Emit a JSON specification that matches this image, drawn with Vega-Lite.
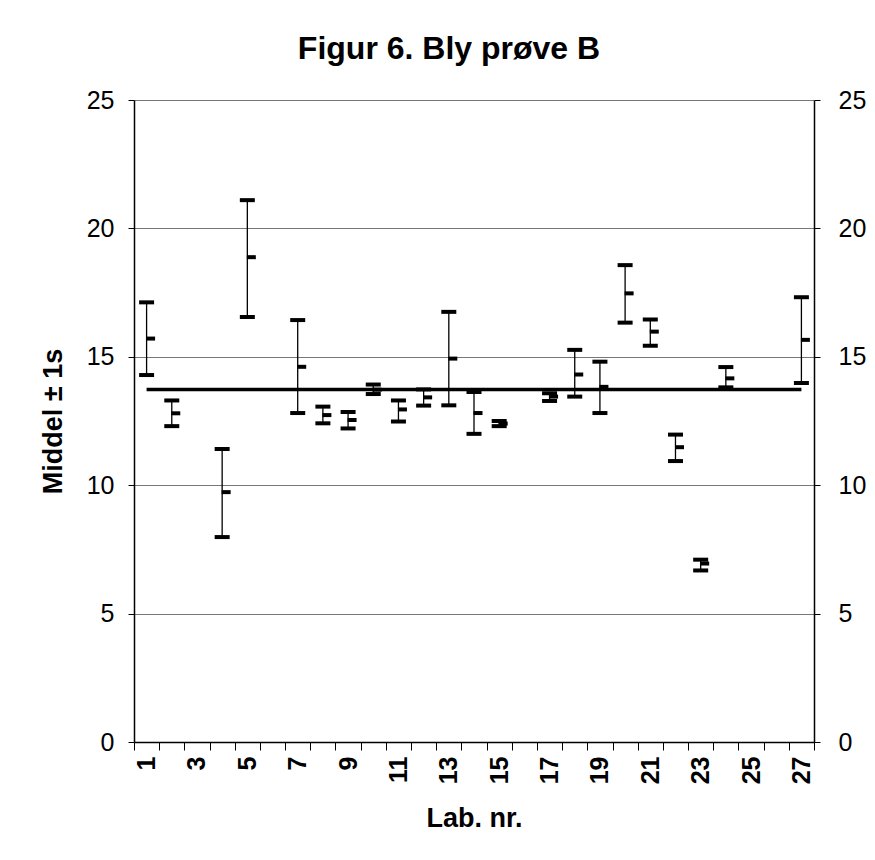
{
  "$schema": "https://vega.github.io/schema/vega-lite/v6.json",
  "width": 680,
  "height": 642,
  "autosize": {"type": "none"},
  "padding": {"left": 134, "top": 100, "right": 61, "bottom": 118},
  "background": "white",
  "config": {
    "font": "Liberation Sans",
    "view": {"stroke": null}
  },
  "title": {
    "text": "Figur 6. Bly prøve B",
    "fontSize": 32,
    "fontWeight": "bold",
    "color": "black",
    "anchor": "middle",
    "offset": 22,
    "dx": -25
  },
  "datasets": {
    "labs": [
      {"lab": 1, "high": 17.12, "mean": 15.71, "low": 14.29},
      {"lab": 2, "high": 13.3, "mean": 12.8, "low": 12.3},
      {"lab": 4, "high": 11.41, "mean": 9.73, "low": 7.98},
      {"lab": 5, "high": 21.1, "mean": 18.88, "low": 16.55},
      {"lab": 7, "high": 16.43, "mean": 14.61, "low": 12.81},
      {"lab": 8, "high": 13.06, "mean": 12.73, "low": 12.41},
      {"lab": 9, "high": 12.85, "mean": 12.54, "low": 12.21},
      {"lab": 10, "high": 13.92, "mean": 13.72, "low": 13.55},
      {"lab": 11, "high": 13.3, "mean": 12.95, "low": 12.48},
      {"lab": 12, "high": 13.73, "mean": 13.42, "low": 13.1},
      {"lab": 13, "high": 16.75, "mean": 14.93, "low": 13.11},
      {"lab": 14, "high": 13.63, "mean": 12.81, "low": 12.0},
      {"lab": 15, "high": 12.5, "mean": 12.4, "low": 12.3},
      {"lab": 17, "high": 13.58, "mean": 13.45, "low": 13.28},
      {"lab": 18, "high": 15.27, "mean": 14.31, "low": 13.45},
      {"lab": 19, "high": 14.81, "mean": 13.83, "low": 12.81},
      {"lab": 20, "high": 18.57, "mean": 17.47, "low": 16.33},
      {"lab": 21, "high": 16.45, "mean": 15.98, "low": 15.43},
      {"lab": 22, "high": 11.97, "mean": 11.48, "low": 10.94},
      {"lab": 23, "high": 7.1, "mean": 6.95, "low": 6.68},
      {"lab": 24, "high": 14.6, "mean": 14.16, "low": 13.81},
      {"lab": 27, "high": 17.32, "mean": 15.66, "low": 13.98}
    ],
    "ref": [
      {"lab": 1, "ref": 13.73},
      {"lab": 27, "ref": 13.73}
    ]
  },
  "encoding": {
    "x": {
      "field": "lab",
      "type": "ordinal",
      "scale": {
        "type": "band",
        "domain": [1,2,3,4,5,6,7,8,9,10,11,12,13,14,15,16,17,18,19,20,21,22,23,24,25,26,27],
        "paddingInner": 0,
        "paddingOuter": 0
      },
      "axis": {
        "title": "Lab. nr.",
        "titleFontSize": 27,
        "titleFontWeight": "bold",
        "titleColor": "black",
        "titlePadding": 22,
        "labelAngle": 270,
        "labelFontSize": 25,
        "labelFontWeight": "bold",
        "labelColor": "black",
        "labelPadding": 6,
        "labelExpr": "datum.value % 2 == 1 ? datum.label : ''",
        "labelOverlap": false,
        "tickBand": "extent",
        "tickSize": 8,
        "tickColor": "black",
        "domainColor": "black",
        "domainWidth": 1.5,
        "grid": false
      }
    }
  },
  "layer": [
    {
      "data": {"name": "labs"},
      "mark": {"type": "rule", "color": "black", "strokeWidth": 1.3},
      "encoding": {
        "y": {
          "field": "low",
          "type": "quantitative",
          "scale": {"domain": [0, 25], "nice": false},
          "axis": {
            "title": "Middel ± 1s",
            "titleFontSize": 27,
            "titleFontWeight": "bold",
            "titleColor": "black",
            "titlePadding": 19,
            "values": [0, 5, 10, 15, 20, 25],
            "labelFontSize": 25,
            "labelColor": "black",
            "labelPadding": 14,
            "tickSize": 6,
            "tickColor": "black",
            "domainColor": "black",
            "domainWidth": 1.5,
            "grid": true,
            "gridColor": "#777777",
            "gridWidth": 1
          }
        },
        "y2": {"field": "high"}
      }
    },
    {
      "data": {"name": "labs"},
      "mark": {"type": "tick", "color": "black", "opacity": 1, "size": 15, "thickness": 4},
      "encoding": {
        "y": {"field": "high", "type": "quantitative", "scale": {"domain": [0, 25], "nice": false}, "axis": null}
      }
    },
    {
      "data": {"name": "labs"},
      "mark": {"type": "tick", "color": "black", "opacity": 1, "size": 15, "thickness": 4},
      "encoding": {
        "y": {"field": "low", "type": "quantitative", "scale": {"domain": [0, 25], "nice": false}, "axis": null}
      }
    },
    {
      "data": {"name": "labs"},
      "mark": {"type": "tick", "color": "black", "opacity": 1, "size": 9, "thickness": 4, "xOffset": 4},
      "encoding": {
        "y": {"field": "mean", "type": "quantitative", "scale": {"domain": [0, 25], "nice": false}, "axis": null}
      }
    },
    {
      "data": {"name": "ref"},
      "mark": {"type": "line", "color": "black", "strokeWidth": 3.5},
      "encoding": {
        "y": {
          "field": "ref",
          "type": "quantitative",
          "scale": {"domain": [0, 25], "nice": false},
          "axis": {
            "orient": "right",
            "title": null,
            "values": [0, 5, 10, 15, 20, 25],
            "labelFontSize": 25,
            "labelColor": "black",
            "labelPadding": 18,
            "tickSize": 6,
            "tickColor": "black",
            "domainColor": "black",
            "domainWidth": 1.5,
            "grid": false
          }
        }
      }
    }
  ],
  "resolve": {"scale": {"y": "independent"}}
}
